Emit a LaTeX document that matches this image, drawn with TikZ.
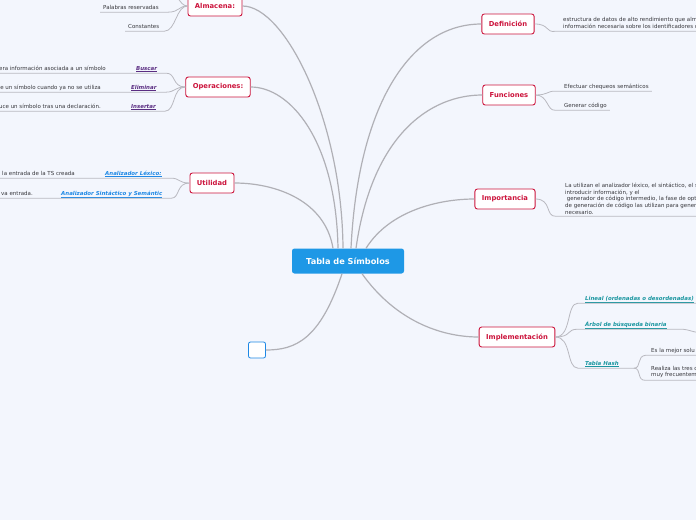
\documentclass[tikz,border=0pt]{standalone}
\usepackage{fontspec}
\setmainfont{DejaVu Sans}
\usetikzlibrary{positioning}
\definecolor{mapbg}{RGB}{243,246,253}
\definecolor{rootblue}{RGB}{30,152,230}
\definecolor{crim}{RGB}{204,20,60}
\definecolor{tagpurple}{RGB}{90,45,130}
\definecolor{tagblue}{RGB}{30,136,229}
\definecolor{tagteal}{RGB}{26,150,160}
\definecolor{linkgray}{RGB}{185,185,192}
\definecolor{leafgray}{RGB}{55,55,60}
\tikzset{
	rootnode/.style={fill=rootblue, rounded corners=2.5pt, text=white, font=\fontsize{8.2}{10}\selectfont\bfseries, minimum width=112pt, minimum height=25pt}
}
\tikzset{
	topicnode/.style={draw=crim, line width=0.9pt, fill=white, rounded corners=2.5pt, text=crim, font=\fontsize{6.8}{8}\selectfont\bfseries, minimum height=20pt, inner xsep=7pt}
}
\tikzset{
	leaftext/.style={font=\fontsize{5.5}{6.6}\selectfont, text=leafgray, inner xsep=3pt, inner ysep=1.5pt, text depth=1.5pt},
	leafblock/.style={font=\fontsize{5.5}{6.6}\selectfont, text=leafgray, inner xsep=3pt, inner ysep=2pt, align=left},
	tagtext/.style={leaftext, font=\fontsize{5.45}{6.6}\selectfont\bfseries\itshape},
	mainlink/.style={draw=linkgray!95!black, line width=1.2pt},
	leaflink/.style={draw=linkgray, line width=0.8pt}
}

\begin{document}
\begin{tikzpicture}[x=1pt, y=-1pt]
      \fill[mapbg] (0,0) rectangle (696,520);
      \useasboundingbox (0,0) rectangle (696,520);
      \clip (0,0) rectangle (696,520);

      \node[rootnode] (tabla) at (348,261) {Tabla de Símbolos};

      \node[topicnode] (alm) at (215,6) {Almacena:};
      \node[topicnode] (ops) at (218,87) {Operaciones:};
      \node[topicnode] (util) at (212,183) {Utilidad};
      \node[topicnode] (def) at (508,24) {Definición};
      \node[topicnode] (func) at (509,95) {Funciones};
      \node[topicnode] (imp) at (505,199) {Importancia};
      \node[topicnode] (impl) at (517,337) {Implementación};
      \node[draw=tagblue, fill=white, rounded corners=2pt, line width=0.8pt, minimum width=17pt, minimum height=16pt] (vacio) at (257,350) {};

      % ramas desde el nodo central
      \draw[mainlink] ([xshift=-5pt]tabla.north) .. controls (342,120) and (285,6) .. (alm.east);
      \draw[mainlink] ([xshift=-10pt]tabla.north) .. controls (336,140) and (290,87) .. (ops.east);
      \draw[mainlink] ([xshift=-15pt]tabla.north) .. controls (325,200) and (275,183) .. (util.east);
      \draw[mainlink] ([xshift=3pt]tabla.north) .. controls (358,105) and (410,24) .. (def.west);
      \draw[mainlink] ([xshift=8pt]tabla.north) .. controls (372,135) and (430,95) .. (func.west);
      \draw[mainlink] ([xshift=18pt]tabla.north) .. controls (390,210) and (440,199) .. (imp.west);
      \draw[mainlink] ([xshift=14pt]tabla.south) .. controls (395,320) and (440,337) .. (impl.west);
      \draw[mainlink] ([xshift=-6pt]tabla.south) .. controls (320,340) and (295,350) .. (vacio.east);

      % Almacena
      \node[leaftext, anchor=base west] (palabras) at (100,9) {Palabras reservadas};
      \node[leaftext, anchor=base west] (const) at (125,28) {Constantes};
      \coordinate (almarriba) at (160,-10);
      \draw[leaflink] (alm.west) .. controls (178,6) and (180,-10) .. (almarriba);
      \draw[leaflink] (alm.west) .. controls (178,6) and (180,12) .. ([xshift=6pt]palabras.south east) -- (palabras.south west);
      \draw[leaflink] (alm.west) .. controls (176,6) and (176,31) .. ([xshift=2pt]const.south east) -- (const.south west);

      % Operaciones
      \node[tagtext, text=tagpurple, anchor=base west] (buscar) at (133,70) {\underline{Buscar}};
      \node[leaftext, anchor=base east] (buscarinfo) at (109,70) {era información asociada a un símbolo};
      \node[tagtext, text=tagpurple, anchor=base west] (eliminar) at (128,89) {\underline{Eliminar}};
      \node[leaftext, anchor=base east] (eliminarinfo) at (104,89) {e un símbolo cuando ya no se utiliza};
      \node[tagtext, text=tagpurple, anchor=base west] (insertar) at (128,108) {\underline{Insertar}};
      \node[leaftext, anchor=base east] (insertarinfo) at (104,108) {uce un símbolo tras una declaración.};
      \draw[leaflink] (ops.west) .. controls (172,87) and (176,73) .. ([xshift=6pt]buscar.south east) -- (buscarinfo.south west);
      \draw[leaflink] (ops.west) .. controls (174,87) and (176,92) .. ([xshift=6pt]eliminar.south east) -- (eliminarinfo.south west);
      \draw[leaflink] (ops.west) .. controls (172,87) and (176,111) .. ([xshift=6pt]insertar.south east) -- (insertarinfo.south west);

      % Utilidad
      \node[tagtext, text=tagblue, anchor=base west] (lexico) at (102,175) {\underline{Analizador Léxico:}};
      \node[leaftext, anchor=base east] (lexicoinfo) at (78,175) {la entrada de la TS creada};
      \node[tagtext, text=tagblue, anchor=base west] (sintac) at (58,195) {\underline{Analizador Sintáctico y Semántic}};
      \node[leaftext, anchor=base east] (sintacinfo) at (36,195) {va entrada.};
      \draw[leaflink] (util.west) .. controls (178,183) and (180,178) .. ([xshift=6pt]lexico.south east) -- (lexicoinfo.south west);
      \draw[leaflink] (util.west) .. controls (176,183) and (180,198) .. ([xshift=6pt]sintac.south east) -- (sintacinfo.south west);

      % Definición
      \node[leafblock, anchor=north west, font=\fontsize{5.5}{7.6}\selectfont] (definfo) at (560,15) {estructura de datos de alto rendimiento que alm\\información necesaria sobre los identificadores c};
      \draw[leaflink] (def.east) .. controls (550,24) and (545,33) .. ([xshift=-4pt]definfo.south west) -- (definfo.south east);

      % Funciones
      \node[leaftext, anchor=base west] (chequeo) at (561,88) {Efectuar chequeos semánticos};
      \node[leaftext, anchor=base west] (codigo) at (561,107) {Generar código};
      \draw[leaflink] (func.east) .. controls (548,95) and (547,91) .. ([xshift=-6pt]chequeo.south west) -- (chequeo.south east);
      \draw[leaflink] (func.east) .. controls (548,95) and (547,111) .. ([xshift=-6pt]codigo.south west) -- (codigo.south east);

      % Importancia
      \node[leafblock, anchor=north west] (impinfo) at (562,181) {La utilizan el analizador léxico, el sintáctico, el s\\introducir información, y el\\\hspace*{1.6pt}generador de código intermedio, la fase de opt\\de generación de código las utilizan para gener\\necesario.};
      \draw[leaflink] (imp.east) .. controls (552,199) and (545,217) .. ([xshift=-6pt]impinfo.south west) -- (impinfo.south east);

      % Implementación
      \node[tagtext, text=tagteal, anchor=base west] (lineal) at (582,300) {\underline{Lineal (ordenadas o desordenadas)}};
      \node[tagtext, text=tagteal, anchor=base west] (arbol) at (582,326) {\underline{Árbol de búsqueda binaria}};
      \node[tagtext, text=tagteal, anchor=base west] (hash) at (582,365) {\underline{Tabla Hash}};
      \coordinate (arbolhijo) at (720,334);
      \coordinate (hashnudo) at ([xshift=12pt]hash.south east);
      \draw[leaflink] (impl.east) .. controls (572,337) and (566,303) .. ([xshift=-4pt]lineal.south west) -- (lineal.south east);
      \draw[leaflink] (impl.east) .. controls (572,337) and (566,329) .. ([xshift=-4pt]arbol.south west) -- ([xshift=10pt]arbol.south east) .. controls (692,329) and (690,334) .. (arbolhijo);
      \draw[leaflink] (impl.east) .. controls (572,337) and (566,368) .. ([xshift=-4pt]hash.south west) -- (hashnudo);
      \node[leaftext, anchor=base west] (mejor) at (648,352) {Es la mejor solu};
      \node[leafblock, anchor=north west] (realiza) at (648,364) {Realiza las tres o\\muy frecuentem};
      \draw[leaflink] (hashnudo) .. controls (642,368) and (636,356) .. ([xshift=-2pt]mejor.south west) -- (mejor.south east);
      \draw[leaflink] (hashnudo) .. controls (642,368) and (636,381) .. ([xshift=-2pt]realiza.south west) -- (realiza.south east);
    \end{tikzpicture}
\end{document}
